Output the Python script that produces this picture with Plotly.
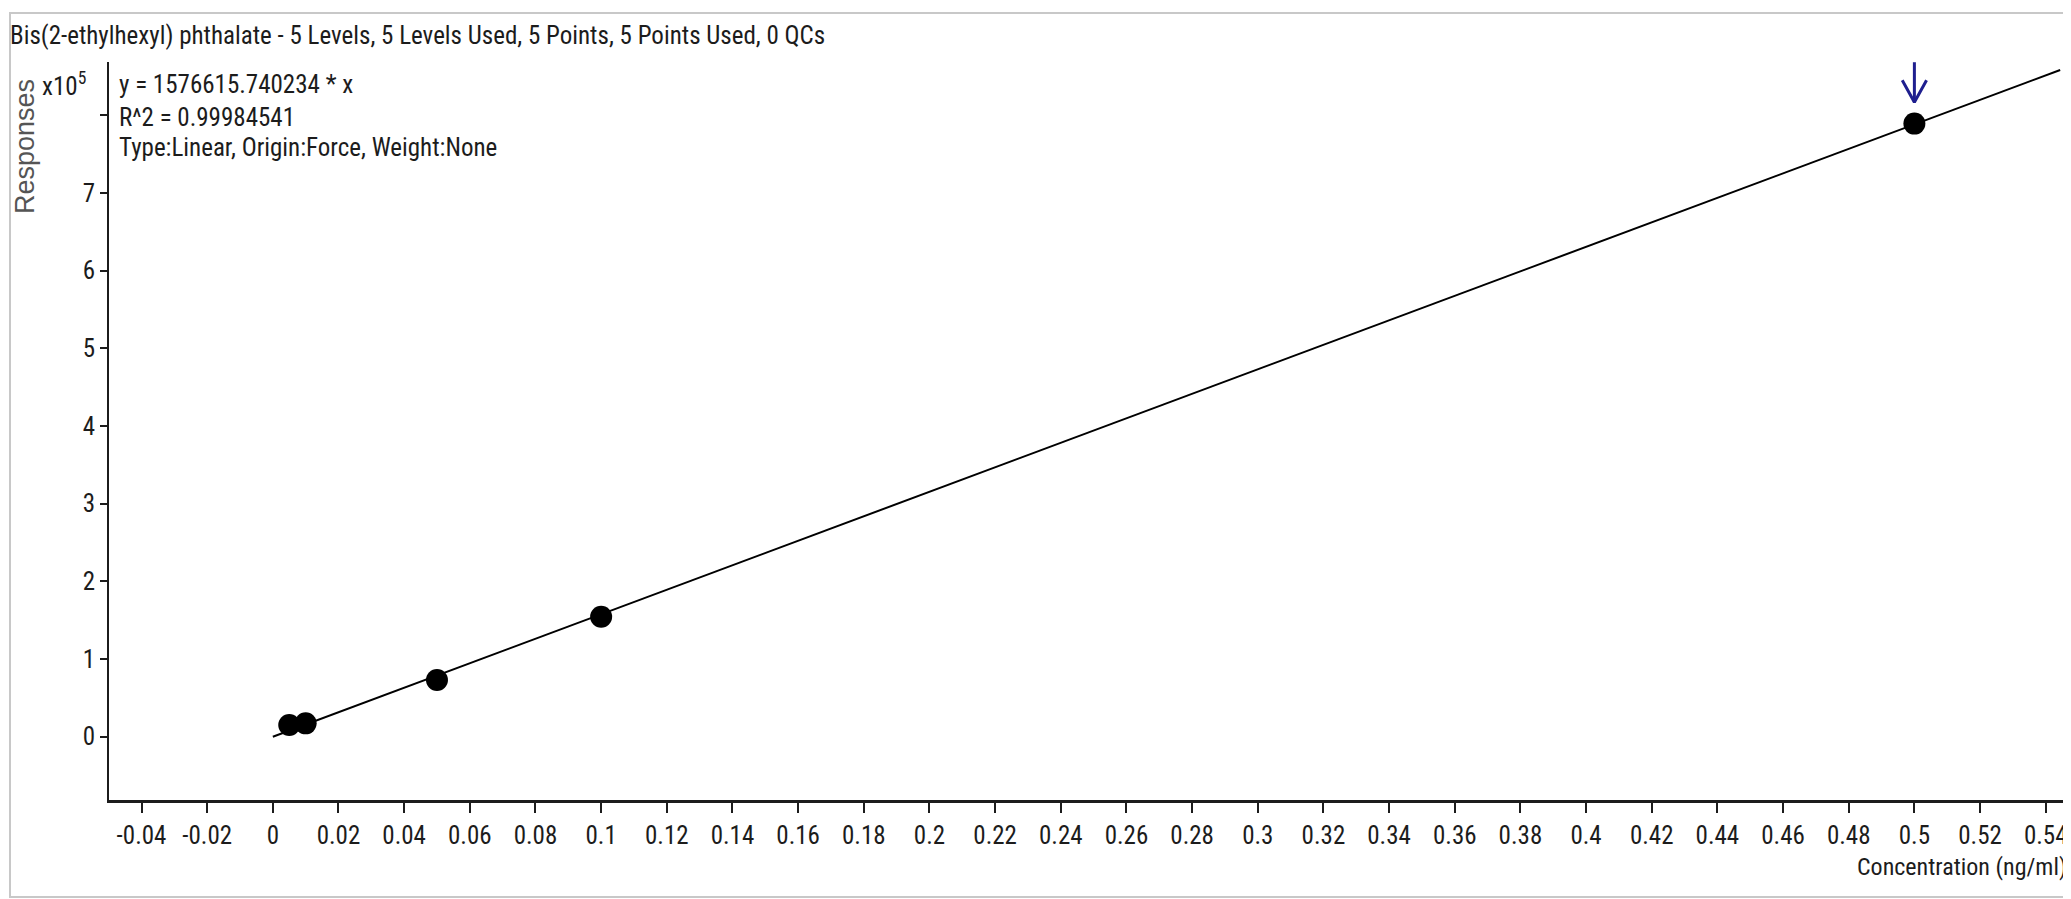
import plotly.graph_objects as go

# ---- data ----
concentration = [0.005, 0.01, 0.05, 0.1, 0.5]
responses = [15000, 17200, 73000, 154400, 789300]
slope = 1576615.740234
fit_x = [0.0, 0.5444]
y_tick_values = [0, 1, 2, 3, 4, 5, 6, 7, 8]
y_tick_labels = ["0", "1", "2", "3", "4", "5", "6", "7", ""]
x_tick_values = [round(-0.04 + 0.02 * i, 2) for i in range(30)]
x_tick_labels = [("%g" % v) for v in x_tick_values]

title_text = "Bis(2-ethylhexyl) phthalate - 5 Levels, 5 Levels Used, 5 Points, 5 Points Used, 0 QCs"
eq_lines = ["y = 1576615.740234 * x", "R^2 = 0.99984541", "Type:Linear, Origin:Force, Weight:None"]

FONT = "Roboto Condensed, DejaVu Sans Condensed, sans-serif"
TXT = "#1c1c1c"
OFF = 8  # page body margin
W, H = 2071 - OFF, 899 - OFF
ML, MR, MT, MB = 109 - OFF, 0, 62 - OFF, 99
PW, PH = W - ML - MR, H - MT - MB

def px_to_paper_x(px):
    return (px - OFF - ML) / PW

def px_to_paper_y(py):
    return 1 - (py - OFF - MT) / PH

fig = go.Figure()

# fitted line
fig.add_trace(go.Scatter(
    x=fit_x, y=[slope * v for v in fit_x], mode="lines",
    line=dict(color="black", width=2), hoverinfo="skip", showlegend=False))

# calibration points
fig.add_trace(go.Scatter(
    x=concentration, y=responses, mode="markers",
    marker=dict(color="black", size=22, symbol="circle"), showlegend=False))

# arrow marking the highest level
ax = concentration[-1]
ay = responses[-1]
tip = ay + 0.274e5
fig.add_trace(go.Scatter(
    x=[ax, ax, None, ax - 0.0037, ax, ax + 0.0037],
    y=[tip, ay + 0.79e5, None, ay + 0.557e5, tip, ay + 0.557e5],
    mode="lines", line=dict(color="#1f1f8f", width=3),
    hoverinfo="skip", showlegend=False))

fig.update_layout(
    width=W, height=H,
    margin=dict(l=ML, r=MR, t=MT, b=MB),
    paper_bgcolor="white", plot_bgcolor="white",
    font=dict(family=FONT, color=TXT),
    showlegend=False,
    xaxis=dict(
        range=[-0.0499, 0.5477], tickvals=x_tick_values, ticktext=x_tick_labels,
        showgrid=False, zeroline=False, showline=True, linecolor=TXT, linewidth=2.5,
        ticks="outside", ticklen=10, tickwidth=2, tickcolor=TXT, ticklabelstandoff=1,
        tickfont=dict(family=FONT, size=25, color=TXT)),
    yaxis=dict(
        range=[-0.8146e5, 8.686e5], tickvals=[v * 1e5 for v in y_tick_values], ticktext=y_tick_labels,
        showgrid=False, zeroline=False, showline=True, linecolor=TXT, linewidth=2,
        ticks="outside", ticklen=7, tickwidth=2, tickcolor=TXT, ticklabelstandoff=0,
        tickfont=dict(family=FONT, size=25, color=TXT)),
)

annotations = []
annotations.append(dict(text=title_text, xref="paper", yref="paper",
                        x=px_to_paper_x(8), y=px_to_paper_y(36), xanchor="left", yanchor="middle",
                        showarrow=False, font=dict(family=FONT, size=25, color=TXT)))
for line, cy in zip(eq_lines, [84, 117, 148]):
    annotations.append(dict(text=line, xref="paper", yref="paper",
                            x=px_to_paper_x(117), y=px_to_paper_y(cy), xanchor="left", yanchor="middle",
                            showarrow=False, font=dict(family=FONT, size=25, color=TXT)))
annotations.append(dict(text="x10<sup>5</sup>", xref="paper", yref="paper",
                        x=px_to_paper_x(64), y=px_to_paper_y(84), xanchor="center", yanchor="middle",
                        showarrow=False, font=dict(family=FONT, size=25, color=TXT)))
annotations.append(dict(text="Responses", xref="paper", yref="paper", textangle=-90,
                        x=px_to_paper_x(25), y=px_to_paper_y(147), xanchor="center", yanchor="middle",
                        showarrow=False, font=dict(family="Liberation Sans, Arial, sans-serif", size=27, color="#555555")))
annotations.append(dict(text="Concentration (ng/ml)", xref="paper", yref="paper",
                        x=px_to_paper_x(2069), y=px_to_paper_y(867), xanchor="right", yanchor="middle",
                        showarrow=False, font=dict(family=FONT, size=24, color=TXT)))
fig.update_layout(annotations=annotations)

# light window frame
fig.add_shape(type="rect", xref="paper", yref="paper",
              x0=px_to_paper_x(10), x1=px_to_paper_x(2090), y0=px_to_paper_y(897), y1=px_to_paper_y(13),
              line=dict(color="#c8c8c8", width=2), fillcolor="rgba(0,0,0,0)", layer="below")

fig.write_html("out.html")
